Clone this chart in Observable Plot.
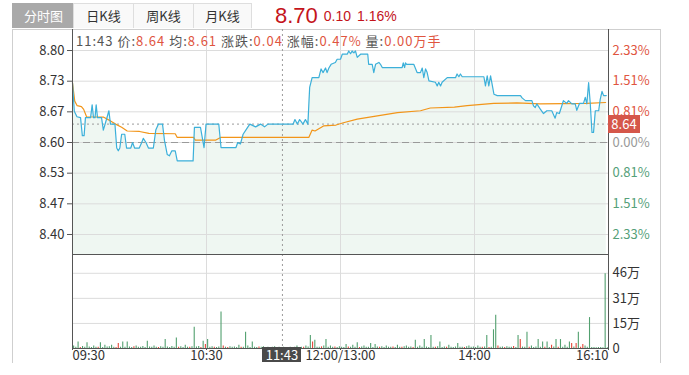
<!DOCTYPE html>
<html>
<head>
<meta charset="utf-8">
<script src="https://cdn.jsdelivr.net/npm/d3@7"></script>
<script src="https://cdn.jsdelivr.net/npm/@observablehq/plot@0.6"></script>
<style>
  html, body { margin: 0; padding: 0; background: #fff; }
  body { width: 689px; height: 375px; position: relative; overflow: hidden;
         font-family: "Noto Sans CJK SC", "Noto Sans", sans-serif; color: #333; }
  .tab { position: absolute; top: 3px; height: 24px; line-height: 24px; text-align: center;
         font-size: 13px; border: 1px solid #dedede; border-bottom: none; background: #f9f9f9; color: #333; }
  .tab.on { background: #a9a9a9; color: #fff; border-color: #a9a9a9; }
  #frame { position: absolute; left: 12px; top: 29px; width: 649px; height: 334px; box-sizing: border-box;
           border-left: 1px solid #cfcfcf; border-right: 1px solid #cfcfcf; border-top: 1px solid #cfcfcf; }
  #quote { position: absolute; left: 275px; top: 3px; height: 25px; line-height: 25px; color: #c4141b; white-space: nowrap;
           font-family: "Liberation Sans", Arial, sans-serif; }
  #quote .big { font-size: 22px; }
  #quote .small { font-size: 14px; margin-left: 6px; word-spacing: 2px; position: relative; top: -2.5px; }
  #info { position: absolute; left: 76px; top: 32px; font-size: 13px; letter-spacing: 1px; line-height: 18px; color: #555; white-space: nowrap; }
  #info .v { color: #e0553f; }
  .svgwrap { position: absolute; left: 0; }
  .tagbox { position: absolute; color: #fff; font-size: 13px; text-align: center; }
</style>
</head>
<body>
<div class="tab on" style="left:12px;width:61px;">分时图</div>
<div class="tab" style="left:73px;width:59px;">日K线</div>
<div class="tab" style="left:133px;width:59px;">周K线</div>
<div class="tab" style="left:193px;width:57px;">月K线</div>
<div id="quote"><span class="big">8.70</span><span class="small">0.10 1.16%</span></div>
<div id="frame"></div>
<div id="price" class="svgwrap" style="top:29px;"></div>
<div id="vol" class="svgwrap" style="top:253px;"></div>
<div id="info">11:43 价:<span class="v">8.64</span> 均:<span class="v">8.61</span> 涨跌:<span class="v">0.04</span> 涨幅:<span class="v">0.47%</span> 量:<span class="v">0.00万手</span></div>
<script>
// ---------- data ----------
const prevClose = 8.60;
const crossMinute = 94;
const crossPrice = 8.64;
const crossTimeLabel = "11:43";

const timeTicks = [0, 60, 120, 180, 240];
const timeLabels = ["09:30", "10:30", "12:00/13:00", "14:00", "16:10"];

const priceTicks = [8.40, 8.4667, 8.5333, 8.60, 8.6667, 8.7333, 8.80];
const priceLabels = ["8.40", "8.47", "8.53", "8.60", "8.67", "8.73", "8.80"];
const pctLabels = ["2.33%", "1.51%", "0.81%", "0.00%", "0.81%", "1.51%", "2.33%"];

const volTicks = [0, 15.4, 30.8, 46.2];
const volLabels = ["0", "15万", "31万", "46万"];

// price line: minute index, price
const priceMin = [0,0.8,2,3.6,4.4,5.2,5.8,8.1,8.8,9.4,10.1,10.6,11.2,13,13.8,15.2,16.3,17,19,19.8,20.5,21.2,22,23.4,24.2,26.1,26.9,27.8,29.9,31,31.7,32.9,34,36.2,37.3,38.5,40.3,41.2,42.4,43.4,44.5,46,46.9,54,54.6,57.3,58.9,59.8,65.5,66.5,73.2,74,75.2,76.4,77.9,79.4,82,84.2,86,87.5,98.8,99.6,100.7,101.7,103.2,104.3,105.4,106.2,107.3,110.3,111.3,112.2,113.3,114,114.8,115.8,117.7,118.5,120,120.8,123,123.7,124.5,125.2,126,126.7,127.5,129,132.2,132.6,134.2,134.9,135.7,137.2,137.9,138.7,147.6,148.1,148.7,149.1,149.6,152.8,154.3,155.8,156.6,157.3,158.1,158.8,159.6,162.5,163.3,164,164.8,165.5,167.8,171.5,172.2,173,173.7,174.5,184.2,184.9,185.7,186.4,187.2,188.7,190.2,200.6,201.3,202.8,205.7,206.4,207.2,207.9,209.4,210.9,212.4,214.6,216.1,216.8,218,219.1,219.8,221.3,222.1,223.6,225.1,225.8,227,228.8,229.6,230.3,231.1,231.8,232.6,233.3,234.1,235.6,236.3,237.1,237.8,239];
const priceVal = [8.730,8.668,8.656,8.654,8.615,8.615,8.654,8.654,8.682,8.654,8.654,8.682,8.654,8.654,8.627,8.650,8.669,8.640,8.640,8.588,8.582,8.588,8.618,8.618,8.588,8.588,8.600,8.588,8.588,8.600,8.609,8.600,8.588,8.588,8.627,8.640,8.640,8.604,8.574,8.571,8.582,8.582,8.560,8.560,8.633,8.633,8.589,8.640,8.640,8.589,8.589,8.600,8.597,8.618,8.629,8.640,8.634,8.640,8.634,8.640,8.640,8.650,8.640,8.650,8.640,8.650,8.640,8.720,8.741,8.741,8.760,8.752,8.762,8.752,8.762,8.770,8.774,8.781,8.781,8.792,8.792,8.799,8.793,8.799,8.795,8.799,8.785,8.792,8.792,8.770,8.770,8.752,8.770,8.774,8.770,8.763,8.763,8.773,8.763,8.773,8.770,8.770,8.752,8.752,8.762,8.741,8.760,8.752,8.734,8.731,8.723,8.731,8.723,8.731,8.741,8.741,8.749,8.743,8.749,8.743,8.743,8.723,8.745,8.723,8.745,8.705,8.702,8.702,8.697,8.691,8.691,8.680,8.676,8.684,8.673,8.663,8.669,8.669,8.653,8.665,8.663,8.680,8.691,8.685,8.691,8.684,8.684,8.670,8.685,8.685,8.698,8.684,8.730,8.687,8.622,8.622,8.669,8.669,8.694,8.711,8.702,8.702];

// average price line
const avgMin = [0,1,2.1,4,5,6.3,14,17,19.3,22,24.5,30,34.2,46,46.9,54.3,55,64,66.3,105.8,107.3,108.6,112.4,118,121.3,127.5,136.5,145.5,155.8,160.2,171,176.7,188.6,199,209.4,230.3,238.7];
const avgVal = [8.730,8.690,8.680,8.678,8.672,8.656,8.655,8.647,8.640,8.633,8.625,8.624,8.620,8.619,8.611,8.611,8.605,8.605,8.611,8.611,8.627,8.625,8.636,8.638,8.643,8.651,8.658,8.665,8.669,8.675,8.677,8.680,8.685,8.686,8.684,8.685,8.687];

// volume per minute (万)
const volume = [
 1.5,0.8,4,0.6,1.2,0.7,3.5,0.9,0.6,1.5,
 0.8,0.7,3.5,0.6,2,0.9,1.1,2,0.7,0.6,
 3,0.8,4,0.7,4,0.9,0.6,1,1.5,0.7,
 0.8,1.2,0.6,4.5,0.9,0.7,1.5,0.8,0.6,1.1,
 0.7,5.5,0.9,0.6,1.2,0.8,6.5,0.7,1,0.6,
 2,0.8,0.7,1.1,13,0.9,1.2,0.6,4.5,2.5,
 5.5,0.8,1,0.7,0.6,0.9,22.5,1.5,0.8,0.6,
 1,0.7,0.9,0.6,2,0.8,0.7,10,1.5,0.6,
 4,0.8,0.6,0.9,0.7,1,0.6,0.8,0.5,0.7,
 1,0.6,0.8,0.5,0.7,0.5,0.6,0.8,0.5,0.7,
 1.5,0.6,0.8,0.7,1.5,0.9,8,4,5,0.8,
 0.7,1,1.5,5.5,0.8,1.5,0.7,0.9,0.6,1,
 0.8,0.6,2.5,0.9,0.7,2,0.8,3.5,0.6,0.9,
 1.5,0.7,0.8,3,0.6,2.5,0.9,0.7,1,0.6,
 1.5,0.8,0.7,0.9,0.6,2,0.8,0.7,1,1.5,
 0.7,0.9,0.6,5,0.8,1.5,0.7,5.5,0.9,0.6,
 8,0.8,0.7,1,4,0.6,0.9,0.7,2,0.8,
 0.6,0.9,3,0.7,0.8,0.6,1,1.5,0.7,0.9,
 0.6,1.5,0.8,0.7,0.9,8,0.6,0.8,11.5,20.5,
 1.5,0.7,0.9,0.6,1,0.8,0.7,1.2,0.6,8,
 5.5,0.9,0.7,10,0.8,1.5,0.6,0.9,5.5,0.7,
 4,0.8,4,0.6,2,0.9,5.5,0.7,5.5,0.8,
 2,0.7,4,3,0.9,3,10,0.8,2.5,1.5,
 0.8,19,0.6,0.6,0.5,0.6,0.6,0.5,46,0.5
];
// minutes whose volume bar is red (price up)
const upMinutes = [3,11,19,20,27,38,47,52,57,59,63,67,69,75,83,88,93,98,103,107,111,117,123,128,137,143,147,152,162,167,175,183,186,190,193,197,200,204,211,214,217,223,225,227,228];

// ---------- styles ----------
const FONT = '"Noto Sans CJK SC", "Noto Sans", sans-serif';
const GRID = "#dcdcdc";
const AXIS = "#555";
const RED_TXT = "#e0553f";
const GREEN_TXT = "#55a079";
const BAR_GREEN = "#52a06f";
const BAR_RED = "#e5473a";

const priceRows = priceMin.map((m, i) => ({m, p: priceVal[i]}));
const avgRows = avgMin.map((m, i) => ({m, p: avgVal[i]}));
const upSet = new Set(upMinutes);
const volRows = volume.map((v, i) => ({m: i + 0.5, v, up: upSet.has(i)}));

const yLo = 8.3565, yHi = 8.8457;
const plotStyle = {fontFamily: FONT, fontSize: "13px", color: "#333", background: "transparent", overflow: "visible"};

const priceChart = Plot.plot({
  width: 689, height: 225,
  marginLeft: 72, marginRight: 81, marginTop: 0, marginBottom: 0,
  style: plotStyle,
  x: {domain: [0, 240], axis: null},
  y: {domain: [yLo, yHi], axis: null},
  marks: [
    Plot.areaY(priceRows, {x: "m", y1: yLo, y2: "p", fill: "#eff7f2"}),
    Plot.ruleY(priceTicks, {stroke: GRID}),
    Plot.ruleX(timeTicks.slice(1, 4), {stroke: GRID}),
    Plot.ruleY([prevClose], {stroke: "#9a9a9a", strokeDasharray: "7,4"}),
    Plot.ruleY([crossPrice], {stroke: "#9a9a9a", strokeDasharray: "2,3"}),
    Plot.ruleX([crossMinute], {stroke: "#9a9a9a", strokeDasharray: "2,3"}),
    Plot.line(avgRows, {x: "m", y: "p", stroke: "#f29519", strokeWidth: 1.2}),
    Plot.line(priceRows, {x: "m", y: "p", stroke: "#3cb0da", strokeWidth: 1.2}),
    Plot.ruleX([0, 240], {stroke: AXIS}),
    Plot.axisY(priceTicks, {anchor: "left", label: null, tickSize: 5, tickPadding: 3, stroke: AXIS, fill: "#333",
      tickFormat: d => priceLabels[priceTicks.indexOf(d)]}),
    Plot.axisY(priceTicks.slice(4), {anchor: "right", label: null, tickSize: 0, tickPadding: 4, fill: RED_TXT,
      tickFormat: d => pctLabels[priceTicks.indexOf(d)], textAnchor: "start"}),
    Plot.axisY(priceTicks.slice(3, 4), {anchor: "right", label: null, tickSize: 0, tickPadding: 4, fill: "#999",
      tickFormat: d => pctLabels[priceTicks.indexOf(d)], textAnchor: "start"}),
    Plot.axisY(priceTicks.slice(0, 3), {anchor: "right", label: null, tickSize: 0, tickPadding: 4, fill: GREEN_TXT,
      tickFormat: d => pctLabels[priceTicks.indexOf(d)], textAnchor: "start"})
  ]
});
document.getElementById("price").appendChild(priceChart);

const volMax = 57.75;
const volChart = Plot.plot({
  width: 689, height: 115,
  marginLeft: 72, marginRight: 81, marginTop: 1, marginBottom: 20,
  style: plotStyle,
  x: {domain: [0, 240], axis: null},
  y: {domain: [0, volMax], axis: null},
  marks: [
    Plot.ruleY(volTicks.slice(1), {stroke: GRID}),
    Plot.ruleX(timeTicks.slice(1, 4), {stroke: GRID}),
    Plot.ruleX([crossMinute], {stroke: "#9a9a9a", strokeDasharray: "2,3"}),
    Plot.ruleX(volRows, {x: "m", y1: 0, y2: "v", stroke: d => d.up ? BAR_RED : BAR_GREEN, strokeWidth: 1.1}),
    Plot.frame({stroke: AXIS}),
    Plot.axisY(volTicks, {anchor: "right", label: null, tickSize: 0, tickPadding: 4, fill: "#333", textAnchor: "start",
      tickFormat: d => volLabels[volTicks.indexOf(d)]}),
    Plot.axisX(timeTicks.slice(0, 1), {anchor: "bottom", label: null, tickSize: 2, tickPadding: 0, stroke: AXIS, fill: "#333",
      textAnchor: "start", tickFormat: d => timeLabels[timeTicks.indexOf(d)]}),
    Plot.axisX(timeTicks.slice(1, 4), {anchor: "bottom", label: null, tickSize: 2, tickPadding: 0, stroke: AXIS, fill: "#333",
      tickFormat: d => timeLabels[timeTicks.indexOf(d)]}),
    Plot.axisX(timeTicks.slice(4), {anchor: "bottom", label: null, tickSize: 2, tickPadding: 0, stroke: AXIS, fill: "#333",
      textAnchor: "end", tickFormat: d => timeLabels[timeTicks.indexOf(d)]})
  ]
});
document.getElementById("vol").appendChild(volChart);

// crosshair tags positioned through the charts' own scales
const xs = volChart.scale("x");
const ys = priceChart.scale("y");
const cx = xs.apply(crossMinute);
const tTag = document.createElement("div");
tTag.className = "tagbox";
tTag.textContent = crossTimeLabel;
Object.assign(tTag.style, {left: (cx - 19.5) + "px", top: "347px", width: "39px", height: "15px",
  lineHeight: "15px", background: "#4a4a4a"});
document.body.appendChild(tTag);
const cy = 29 + ys.apply(crossPrice);
const pTag = document.createElement("div");
pTag.className = "tagbox";
pTag.textContent = crossPrice.toFixed(2);
Object.assign(pTag.style, {left: "608px", top: (cy - 9) + "px", width: "32px", height: "18px",
  lineHeight: "18px", background: "#d5574a"});
document.body.appendChild(pTag);
</script>
</body>
</html>
